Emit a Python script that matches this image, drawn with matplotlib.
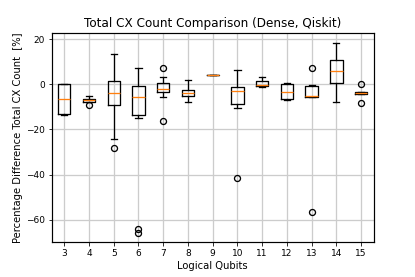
import matplotlib
matplotlib.use("Agg")
import matplotlib.pyplot as plt

# qubit counts on the x axis
qubits = [3, 4, 5, 6, 7, 8, 9, 10, 11, 12, 13, 14, 15]

# box statistics (percent)
medians = [-6.4, -7.0, -3.9, -5.6, -1.9, -4.0, 4.1, -3.0, -0.4, -3.4, -5.3, 5.8, -4.0]
q1s = [-13.3, -7.7, -9.3, -13.5, -3.6, -5.2, 4.1, -8.9, -0.7, -6.7, -5.5, 0.7, -4.4]
q3s = [0.0, -6.5, 1.6, -0.9, 0.6, -2.4, 4.1, -1.2, 1.6, 0.0, -0.6, 10.7, -3.6]
whis_lo = [-13.5, -7.8, -24.1, -15.1, -5.8, -8.0, 4.1, -10.5, -1.0, -7.0, -5.6, -7.7, -4.5]
whis_hi = [0.0, -5.0, 13.3, 7.1, 3.3, 1.9, 4.1, 6.2, 3.4, 0.6, -0.5, 18.4, -3.5]
outliers = [
    [],
    [-9.0],
    [-28.3],
    [-64.0, -65.8],
    [7.4, -16.1],
    [],
    [],
    [-41.5],
    [],
    [],
    [7.3, -56.4],
    [],
    [0.0, -8.3],
]

stats = []
for i in range(len(qubits)):
    stats.append({
        "med": medians[i],
        "q1": q1s[i],
        "q3": q3s[i],
        "whislo": whis_lo[i],
        "whishi": whis_hi[i],
        "fliers": outliers[i],
        "label": str(qubits[i]),
    })

# 415x277 px at 72 dpi
fig, ax = plt.subplots(figsize=(415 / 72, 277 / 72), dpi=72)
fig.subplots_adjust(left=0.125, right=0.9, bottom=0.125, top=0.88)
lw = 1.3
ax.bxp(stats,
       boxprops=dict(linewidth=lw),
       whiskerprops=dict(linewidth=lw),
       capprops=dict(linewidth=lw),
       medianprops=dict(linewidth=lw, color="#ff7f0e"),
       flierprops=dict(markeredgewidth=lw, markersize=6))
ax.grid(True, color="#cccccc", linewidth=1.3)
ax.set_axisbelow(True)
for s in ax.spines.values():
    s.set_linewidth(1.2)
ax.tick_params(labelsize=9)
ax.set_title("Total CX Count Comparison (Dense, Qiskit)")
ax.set_xlabel("Logical Qubits", labelpad=3)
ax.set_ylabel("Percentage Difference Total CX Count  [%]", labelpad=3)

fig.savefig("out.png", dpi=72)
